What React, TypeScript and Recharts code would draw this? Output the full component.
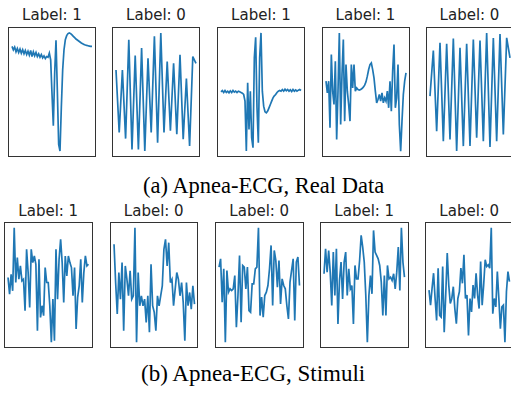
import { Line, LineChart, XAxis, YAxis } from "recharts";

// labels shown above each panel
const realLabels = [1, 0, 1, 1, 0];
const stimuliLabels = [1, 0, 0, 1, 0];

// (a) real data traces
const realSeries1 = [
  330, 320, 328, 314, 324, 312, 322, 310, 320, 308, 318, 306, 316, 304, 318,
  300, 314, 302, 312, 300, 308, 298, 306, 296, 302, 294, 300, 298, 310, 290,
  190, 95, 250, 348, 200, 40, 20, 150, 260, 320, 350, 362, 368, 370, 368, 364,
  360, 356, 352, 349, 346, 343, 340, 338, 336, 334, 333, 332, 331, 330, 330,
];
const realSeries2 = [
  265, 80, 265, 62, 355, 30, 308, 30, 330, 25, 300, 80, 365, 50, 375, 80, 290,
  85, 285, 75, 310, 60, 240, 40, 305, 285,
];
const realSeries3 = [
  198, 202, 196, 202, 196, 200, 195, 201, 196, 202, 197, 200, 196, 200, 198,
  196, 194, 190, 170, 20, 225, 85, 200, 60, 30, 300, 362, 150, 45, 300, 375,
  200, 155, 138, 135, 140, 150, 160, 170, 180, 186, 190, 196, 200, 202, 200,
  205, 200, 206, 201, 205, 200, 204, 199, 205, 200, 204, 200, 203, 205, 202,
];
const realSeries4 = [
  230, 195, 230, 90, 310, 200, 160, 290, 55, 200, 375, 100, 250, 355, 110, 280,
  200, 160, 110, 280, 210, 280, 200, 210, 205, 203, 205, 208, 212, 218, 228,
  245, 265, 280, 285, 265, 240, 200, 165, 175, 190, 170, 195, 165, 180, 170,
  200, 150, 230, 140, 260, 340, 150, 180, 280, 100, 20, 110, 190, 230, 255,
];
const realSeries5 = [
  185, 322, 80, 345, 50, 342, 55, 358, 20, 330, 35, 342, 35, 355, 60, 352, 50,
  375, 32, 360, 50, 372, 70, 360, 300,
];

// (b) stimuli traces
const stimuliSeries1 = [
  215, 165, 225, 175, 365, 200, 275, 210, 250, 205, 210, 115, 300, 230, 125,
  300, 260, 280, 255, 55, 270, 95, 130, 100, 245, 200, 200, 130, 20, 150, 25,
  300, 150, 270, 330, 260, 140, 280, 220, 280, 260, 245, 160, 245, 60, 155,
  190, 270, 140, 230, 280, 250, 255,
];
const stimuliSeries2 = [
  315, 200, 105, 230, 150, 260, 55, 250, 210, 160, 235, 150, 160, 365, 20, 230,
  130, 160, 130, 150, 80, 160, 50, 255, 130, 110, 55, 160, 130, 160, 190, 300,
  330, 250, 320, 200, 210, 130, 180, 230, 210, 160, 200, 140, 25, 200, 130,
  170, 120, 190, 135,
];
const stimuliSeries3 = [
  245, 270, 140, 240, 20, 235, 170, 180, 175, 180, 220, 65, 160, 280, 80, 250,
  245, 180, 245, 115, 110, 195, 195, 240, 245, 363, 100, 155, 95, 160, 170,
  190, 240, 310, 130, 295, 265, 185, 265, 135, 210, 190, 180, 130, 90, 200,
  235, 270, 85, 260, 275, 190,
];
const stimuliSeries4 = [
  225, 300, 230, 295, 230, 130, 290, 160, 300, 75, 205, 260, 150, 260, 290, 160,
  240, 180, 190, 75, 250, 210, 210, 265, 340, 305, 260, 160, 20, 160, 220, 165,
  355, 290, 280, 270, 250, 200, 100, 220, 100, 250, 210, 215, 205, 225, 180,
  230, 305, 175, 363, 260, 215,
];
const stimuliSeries5 = [
  175, 130, 180, 225, 150, 85, 240, 100, 95, 245, 50, 160, 285, 190, 135, 150,
  185, 120, 75, 150, 170, 240, 195, 280, 150, 160, 40, 150, 110, 190, 150, 225,
  160, 120, 260, 130, 190, 265, 245, 250, 240, 360, 105, 150, 125, 230, 150,
  60, 125, 130, 20, 170, 230, 200,
];

const realSeries = [realSeries1, realSeries2, realSeries3, realSeries4, realSeries5];
const stimuliSeries = [
  stimuliSeries1,
  stimuliSeries2,
  stimuliSeries3,
  stimuliSeries4,
  stimuliSeries5,
];

// layout of the two rows
const rowA = { lefts: [8, 112, 217, 321.5, 425.5], top: 27, width: 88, height: 130 };
const rowB = { lefts: [4, 109.5, 215, 320, 425], top: 222, width: 88.5, height: 126 };

const toRows = (values: number[]) => values.map((y, i) => ({ x: i, y }));

type PanelProps = {
  left: number;
  top: number;
  width: number;
  height: number;
  values: number[];
};

const Panel = ({ left, top, width, height, values }: PanelProps) => {
  const padX = (width * 0.05) / 1.1 - 1;
  const padY = (height * 0.05) / 1.1 - 1;
  return (
    <div
      style={{
        position: "absolute",
        left,
        top,
        width,
        height,
        border: "1px solid #333",
        boxSizing: "border-box",
      }}
    >
      <LineChart
        width={width - 2}
        height={height - 2}
        data={toRows(values)}
        margin={{ top: padY, bottom: padY, left: padX, right: padX }}
      >
        <XAxis type="number" dataKey="x" domain={["dataMin", "dataMax"]} hide />
        <YAxis type="number" domain={["dataMin", "dataMax"]} hide />
        <Line
          type="linear"
          dataKey="y"
          stroke="#1f77b4"
          strokeWidth={1.7}
          dot={false}
          isAnimationActive={false}
        />
      </LineChart>
    </div>
  );
};

export default function App() {
  return (
    <div
      style={{
        position: "absolute",
        left: 0,
        top: 0,
        width: 511,
        height: 399,
        overflow: "hidden",
        background: "#fff",
      }}
    >
      <svg width={511} height={399} style={{ position: "absolute", left: 0, top: 0 }}>
        {realLabels.map((label, i) => (
          <text
            key={"a" + i}
            x={rowA.lefts[i] + rowA.width / 2}
            y={rowA.top - 7}
            textAnchor="middle"
            fontFamily="DejaVu Sans"
            fontSize={15}
            fill="#222"
          >
            {`Label: ${label}`}
          </text>
        ))}
        {stimuliLabels.map((label, i) => (
          <text
            key={"b" + i}
            x={rowB.lefts[i] + rowB.width / 2}
            y={rowB.top - 6}
            textAnchor="middle"
            fontFamily="DejaVu Sans"
            fontSize={15}
            fill="#222"
          >
            {`Label: ${label}`}
          </text>
        ))}
        <text x={143} y={193} fontFamily="Liberation Serif" fontSize={22.5} fill="#000">
          (a) Apnea-ECG, Real Data
        </text>
        <text x={141} y={381} fontFamily="Liberation Serif" fontSize={23} fill="#000">
          (b) Apnea-ECG, Stimuli
        </text>
      </svg>
      {realSeries.map((values, i) => (
        <Panel
          key={"pa" + i}
          left={rowA.lefts[i]}
          top={rowA.top}
          width={rowA.width}
          height={rowA.height}
          values={values}
        />
      ))}
      {stimuliSeries.map((values, i) => (
        <Panel
          key={"pb" + i}
          left={rowB.lefts[i]}
          top={rowB.top}
          width={rowB.width}
          height={rowB.height}
          values={values}
        />
      ))}
    </div>
  );
}
